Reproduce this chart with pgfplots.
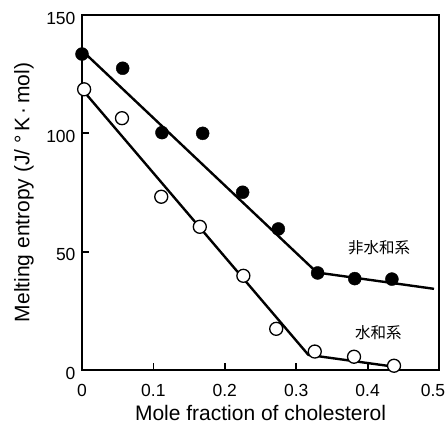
\documentclass[border=0pt]{standalone}
\usepackage{pgfplots}
\pgfplotsset{compat=1.18}
\usepackage{fontspec}
\setmainfont{Liberation Sans}
\newfontfamily\cjk{Noto Sans CJK JP}
\begin{document}
\begin{tikzpicture}
\begin{axis}[
  scale only axis, width=357pt, height=355pt,
  xmin=0, xmax=0.5, ymin=0, ymax=150,
  xtick={0,0.1,0.2,0.3,0.4}, xticklabels={0,0.1,0.2,0.3,0.4},
  extra x ticks={0.5}, extra x tick labels={0.5},
  extra x tick style={xticklabel style={xshift=-6pt}},
  ytick={0,50,100,150},
  tick pos=left, tick align=inside, major tick length=7pt,
  axis line style={line width=2pt},
  every tick/.style={line width=1.8pt, black},
  tick label style={font=\fontsize{17.5}{17.5}\selectfont},
  /pgf/number format/assume math mode=true,
  xticklabel style={yshift=-11pt},
  yticklabel style={xshift=-3pt, yshift=-3pt},
  xlabel={Mole fraction of cholesterol},
  ylabel={Melting entropy (J/ °\,K\,·\,mol)},
  label style={font=\fontsize{21}{21}\selectfont},
  xlabel style={at={(axis description cs:0.5,-0.122)}, anchor=center},
  ylabel style={at={(axis description cs:-0.1625,0.5)}, anchor=center},
  clip=false,
]
% fitted lines
\addplot[line width=2.4pt, no marks] coordinates {(0,135) (0.329,41.2) (0.493,34.3)};
\addplot[line width=2.4pt, no marks] coordinates {(0.006,116.5) (0.317,6.4) (0.437,1.4)};
% non-hydrated (filled)
\addplot[only marks, mark=*, mark size=6.5pt, black] coordinates {
  (0,133.5) (0.057,127.5) (0.112,100.3) (0.169,100) (0.225,75.1)
  (0.275,59.6) (0.330,41) (0.382,38.6) (0.434,38.4)};
% hydrated (open)
\addplot[only marks, mark=*, mark size=6.5pt, draw=black, fill=white, line width=1.3pt] coordinates {
  (0.003,118.6) (0.056,106.4) (0.111,73.2) (0.165,60.5) (0.226,39.8)
  (0.272,17.4) (0.326,7.8) (0.381,5.6) (0.437,1.8)};
\node[font=\cjk\fontsize{15.5}{15.5}\selectfont] at (axis cs:0.416,51.5) {非水和系};
\node[font=\cjk\fontsize{15.5}{15.5}\selectfont] at (axis cs:0.415,15.6) {水和系};
\end{axis}
\pgfresetboundingbox
\path[use as bounding box] (current axis.south west) ++(-82pt,-55pt) rectangle ++(446pt,425pt);
\end{tikzpicture}
\end{document}
